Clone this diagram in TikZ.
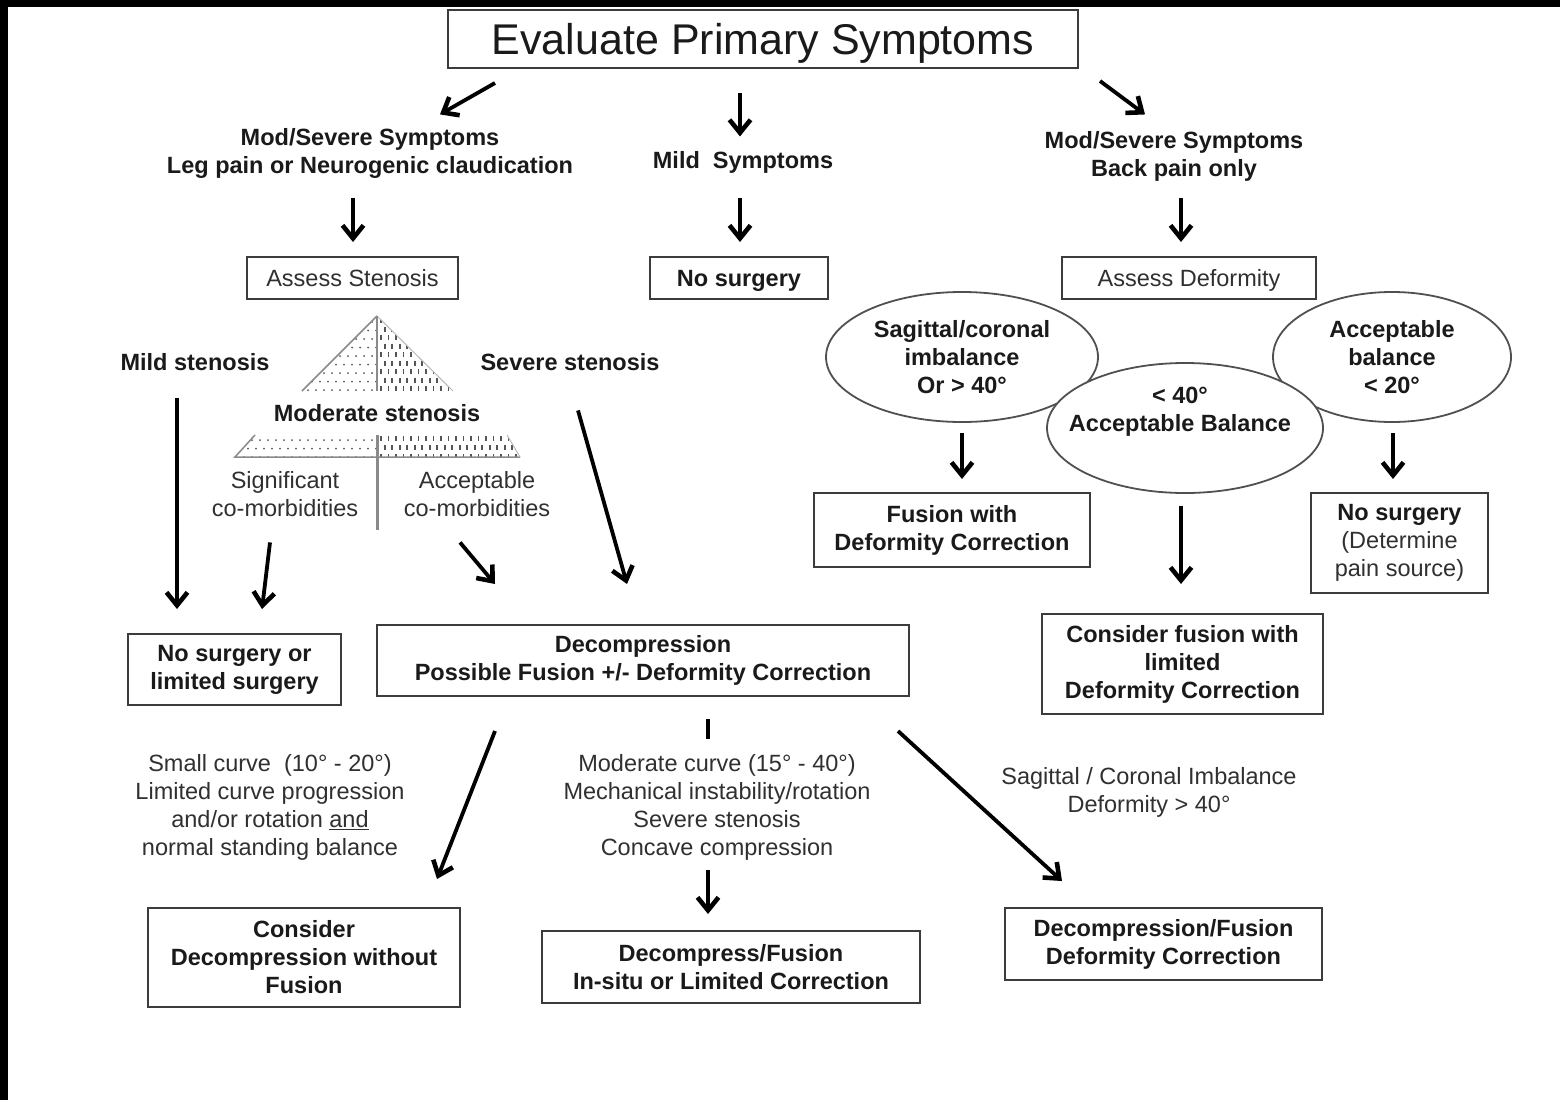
\documentclass[tikz,border=0pt]{standalone}
\usepackage{fontspec}
\setmainfont{Liberation Sans}
\usetikzlibrary{arrows.meta,shapes.geometric}
\definecolor{ink}{HTML}{1A1A1A}
\definecolor{ink2}{HTML}{303030}
\definecolor{boxc}{HTML}{3C3C3C}
\definecolor{ellc}{HTML}{505050}
\definecolor{patc}{HTML}{555555}
\definecolor{tric}{HTML}{8A8A8A}
\begin{document}
\begin{tikzpicture}[x=1pt,y=-1pt,
 bt/.style={font=\bfseries\fontsize{23.5}{28}\selectfont,text=ink,align=center,inner sep=0pt},
 rt/.style={font=\fontsize{23.5}{28}\selectfont,text=ink2,align=center,inner sep=0pt},
 box/.style={draw=boxc,line width=2pt,fill=white,inner sep=0pt,align=center},
 oneline/.style={text height=17pt,text depth=0pt},
 ell/.style={ellipse,draw=ellc,line width=1.8pt,inner sep=0pt,align=center,font=\bfseries\fontsize{23.5}{28}\selectfont,text=ink},
 arr/.style={draw=black,line width=3.8pt,-{Straight Barb[length=13pt,width=21pt,line width=4.6pt]}},
 tick/.style={draw=black,line width=3.8pt}
]
\useasboundingbox (0,0) rectangle (1560,1100);
\fill[white] (0,0) rectangle (1560,1100);
\fill[black] (0,0) rectangle (1560,7);
\fill[black] (0,0) rectangle (8,1100);

% ---------- top ----------
\node[box,minimum width=630pt,minimum height=58pt,font=\fontsize{43}{48}\selectfont,text=ink,text height=31pt,text depth=0pt] (title) at (763,39) {Evaluate Primary Symptoms};
\node[bt] (modL) at (370,153) {Mod/Severe Symptoms\\Leg pain or Neurogenic claudication};
\node[bt] (mild) at (743,162) {Mild~~Symptoms};
\node[bt] (modR) at (1174,156) {Mod/Severe Symptoms\\Back pain only};

\draw[arr] ([shift={(-268,14)}]title.south) -- ([shift={(70,-13.4)}]modL.north);
\draw[arr] ([shift={(-23,24)}]title.south) -- ([shift={(-3,-14.4)}]mild.north);
\draw[arr] ([shift={(337,12)}]title.south) -- ([shift={(-29,-16.4)}]modR.north);

\node[box,rt,oneline,minimum width=211pt,minimum height=42pt] (assessS) at (352.5,278) {Assess Stenosis};
\node[box,bt,oneline,minimum width=178pt,minimum height=42pt] (nosurg1) at (739,278) {No surgery};
\node[box,rt,oneline,minimum width=254pt,minimum height=42pt] (assessD) at (1189,278) {Assess Deformity};

\draw[arr] ([shift={(-17,20)}]modL.south) -- ([shift={(0.5,-14)}]assessS.north);
\draw[arr] ([shift={(-3,24.6)}]mild.south) -- ([shift={(1,-14)}]nosurg1.north);
\draw[arr] ([shift={(7,16.6)}]modR.south) -- ([shift={(-8,-14)}]assessD.north);

% ---------- stenosis pyramid ----------
\begin{scope}
 \clip (377,316) -- (302,391) -- (377,391) -- cycle;
 \foreach \r in {0,...,8}{\foreach \c in {0,...,10}{
   \fill[patc] ({300+\c*8+mod(\r,2)*4},{322+\r*8.5}) circle (1);
 }}
\end{scope}
\begin{scope}
 \clip (377,316) -- (453,391) -- (377,391) -- cycle;
 \foreach \r in {0,...,8}{\foreach \c in {0,...,11}{
   \draw[patc,line width=1.6pt] ({381+\c*7.5+mod(\r,2)*3.7},{318+\r*8.5}) -- ++(0,5);
 }}
\end{scope}
\begin{scope}
 \clip (255,435) -- (377,435) -- (377,457) -- (235,457) -- cycle;
 \foreach \r in {0,1,2}{\foreach \c in {0,...,18}{
   \fill[patc] ({236+\c*8+mod(\r,2)*4},{440+\r*8.5}) circle (1);
 }}
\end{scope}
\begin{scope}
 \clip (377,435) -- (507,435) -- (520,457) -- (377,457) -- cycle;
 \foreach \r in {0,1,2}{\foreach \c in {0,...,19}{
   \draw[patc,line width=1.6pt] ({381+\c*7.5+mod(\r,2)*3.7},{436+\r*9}) -- ++(0,5);
 }}
\end{scope}
\draw[tric,line width=1.5pt] (377,316) -- (302,391);
\draw[tric!60,line width=1pt] (377,316) -- (453,391);
\draw[tric,line width=2pt] (377,316) -- (377,391);
\draw[tric,line width=1.5pt] (255,435) -- (235,457) -- (520,457);
\draw[tric!60,line width=1pt] (507,435) -- (520,457);
\draw[tric,line width=3pt] (377,435) -- (377,530);

\node[bt] (mildS) at (195,362) {Mild stenosis};
\node[bt] (sevS) at (570,362) {Severe stenosis};
\node[bt] (modS) at (377,413) {Moderate stenosis};
\node[rt] (sig) at (285,494) {Significant\\co-morbidities};
\node[rt] (acc) at (477,494) {Acceptable\\co-morbidities};

\node[box,bt,minimum width=213pt,minimum height=71pt] (nosurg2) at (234.5,669.5) {No surgery or\\limited surgery};
\node[box,bt,minimum width=532pt,minimum height=71pt] (decomp) at (643,660.5) {Decompression\\Possible Fusion +/- Deformity Correction};

\draw[arr] ([shift={(-18,27.6)}]mildS.south) -- ([shift={(-57.5,-24)}]nosurg2.north);
\draw[arr] ([shift={(-15,25.6)}]sig.south) -- ([shift={(27.5,-24)}]nosurg2.north);
\draw[arr] ([shift={(-17,25.6)}]acc.south) -- ([shift={(-148,-40)}]decomp.north);
\draw[arr] ([shift={(8,39.6)}]sevS.south) -- ([shift={(-16,-40)}]decomp.north);

% ---------- bottom ----------
\node[rt] (smallC) at (270,807) {Small curve~~(10° - 20°)\\Limited curve progression\\and/or rotation \underline{and}\\normal standing balance};
\node[rt] (modC) at (717,807) {Moderate curve (15° - 40°)\\Mechanical instability/rotation\\Severe stenosis\\Concave compression};
\node[rt] (sagC) at (1149,792) {Sagittal / Coronal Imbalance\\Deformity > 40°};

\node[box,bt,minimum width=312pt,minimum height=99pt] (consD) at (304,957.5) {Consider\\Decompression without\\Fusion};
\node[box,bt,minimum width=378pt,minimum height=72pt] (decF) at (731,967) {Decompress/Fusion\\In-situ or Limited Correction};
\node[box,bt,minimum width=317pt,minimum height=72pt] (decFD) at (1163.5,944) {Decompression/Fusion\\Deformity Correction};

\draw[tick] ([shift={(65,22)}]decomp.south) -- ([shift={(65,42)}]decomp.south);
\draw[arr] ([shift={(-148,34)}]decomp.south) -- ([shift={(133,-28)}]consD.north);
\draw[arr] ([shift={(-9,9.6)}]modC.south) -- ([shift={(-23,-16)}]decF.north);
\draw[arr] ([shift={(255,34)}]decomp.south) -- ([shift={(-101.5,-26)}]decFD.north);

% ---------- deformity ----------
\node[ell,minimum width=272pt,minimum height=130pt] (e1) at (962,357) {Sagittal/coronal\\imbalance\\Or > 40°};
\node[ell,minimum width=238pt,minimum height=130pt] (e3) at (1392,357) {Acceptable\\balance\\< 20°};
\node[ell,fill=white,minimum width=276pt,minimum height=130pt] (e2) at (1185,428) {};
\node[bt] (e2t) at (1180,412) {< 40°\\Acceptable Balance};

\node[box,bt,minimum width=276pt,minimum height=74pt] (fusD) at (952,530) {Fusion with\\Deformity Correction};
\node[box,rt,minimum width=177pt,minimum height=100pt] (nosurg3) at (1399.5,543) {\textbf{\color{ink}No surgery}\\(Determine\\pain source)};
\node[box,bt,minimum width=281pt,minimum height=100pt] (consF) at (1182.5,664) {Consider fusion with\\limited\\Deformity Correction};

\draw[arr] ([shift={(0,10)}]e1.south) -- ([shift={(0,-13)}]e1.south |- fusD.north);
\draw[arr] ([shift={(1,10)}]e3.south) -- ([shift={(1,-13)}]e3.south |- nosurg3.north);
\draw[arr] ([shift={(-4,12)}]e2.south) -- ([shift={(-1.5,-29)}]consF.north);
\end{tikzpicture}
\end{document}
